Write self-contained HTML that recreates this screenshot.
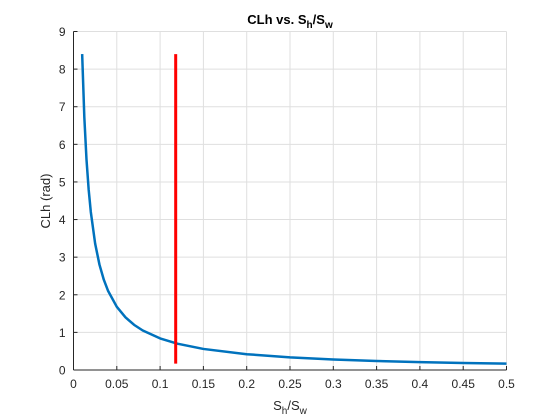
<!DOCTYPE html>
<html><head><meta charset="utf-8"><style>
html,body{margin:0;padding:0;background:#fff;}
svg{display:block;font-family:"Liberation Sans",Arial,sans-serif;}
</style></head><body>
<svg id="chart" width="560" height="420" viewBox="0 0 560 420" xmlns="http://www.w3.org/2000/svg">
<rect width="560" height="420" fill="#fff"/>
<g id="grid"></g>
<g id="marks"></g>
<g id="axes"></g>
<text x="290" y="24" text-anchor="middle" font-size="13" font-weight="bold" fill="#000">CLh vs. S<tspan font-size="10" dy="4">h</tspan><tspan dy="-4">/S</tspan><tspan font-size="10" dy="4">w</tspan></text>
<text x="290" y="410" text-anchor="middle" font-size="13" fill="#262626">S<tspan font-size="10" dy="4">h</tspan><tspan dy="-4">/S</tspan><tspan font-size="10" dy="4">w</tspan></text>
<text transform="translate(50,201) rotate(-90)" text-anchor="middle" font-size="13" fill="#262626">CLh (rad)</text>
</svg>
<script>
const xTicks=[0,0.05,0.1,0.15,0.2,0.25,0.3,0.35,0.4,0.45,0.5];
const xTickLabels=["0","0.05","0.1","0.15","0.2","0.25","0.3","0.35","0.4","0.45","0.5"];
const yTicks=[0,1,2,3,4,5,6,7,8,9];
const curveX=[0.01,0.0125,0.015,0.0175,0.02,0.025,0.03,0.035,0.04,0.05,0.06,0.07,0.08,0.1,0.12,0.15,0.2,0.25,0.3,0.35,0.4,0.45,0.5];
const curveY=[8.4,6.72,5.6,4.8,4.2,3.36,2.8,2.4,2.1,1.68,1.4,1.2,1.05,0.84,0.7,0.56,0.42,0.336,0.28,0.24,0.21,0.187,0.168];
const markerX=[0.118,0.118];
const markerY=[0.17,8.4];
const L=73.5,R=506.5,T=31.5,B=370;
const xs=v=>L+(v-0)/(0.5-0)*(R-L);
const ys=v=>B-(v-0)/(9-0)*(B-T);
const NS="http://www.w3.org/2000/svg";
function mk(tag,attrs,parent){const e=document.createElementNS(NS,tag);for(const k in attrs)e.setAttribute(k,attrs[k]);parent.appendChild(e);return e;}
const grid=document.getElementById('grid'),axes=document.getElementById('axes'),marks=document.getElementById('marks');
mk('rect',{x:L,y:T,width:R-L,height:B-T,fill:'#fff'},grid);
xTicks.forEach((t,i)=>{
 const g=mk('line',{x1:xs(t),x2:xs(t),y1:T,y2:B,stroke:'#dfdfdf','stroke-width':1},grid);
 
 
 const tk=mk('line',{x1:xs(t),x2:xs(t),y1:B,y2:B-4,stroke:'#262626'},axes);
 
 
 const lb=mk('text',{x:xs(t),y:B+18,'text-anchor':'middle','font-size':12,fill:'#262626'},axes);
 lb.textContent=xTickLabels[i];
 
 
});
yTicks.forEach(t=>{
 const g=mk('line',{x1:L,x2:R,y1:ys(t),y2:ys(t),stroke:'#dfdfdf','stroke-width':1},grid);
 
 
 const tk=mk('line',{x1:L,x2:L+4,y1:ys(t),y2:ys(t),stroke:'#262626'},axes);
 
 
 const lb=mk('text',{x:L-8,y:ys(t)+4.5,'text-anchor':'end','font-size':12,fill:'#262626'},axes);
 lb.textContent=String(t);
 
 
});
const xa=mk('line',{x1:L,x2:R,y1:B,y2:B,stroke:'#262626'},axes);


const ya=mk('line',{x1:L,x2:L,y1:T,y2:B,stroke:'#262626'},axes);


const cp=mk('polyline',{points:curveX.map((x,i)=>xs(x)+','+ys(curveY[i])).join(' '),fill:'none',stroke:'#0072bd','stroke-width':2.5,'stroke-linejoin':'round'},marks);


const mp=mk('polyline',{points:markerX.map((x,i)=>xs(x)+','+ys(markerY[i])).join(' '),fill:'none',stroke:'#ff0000','stroke-width':3},marks);


</script>
</body></html>
